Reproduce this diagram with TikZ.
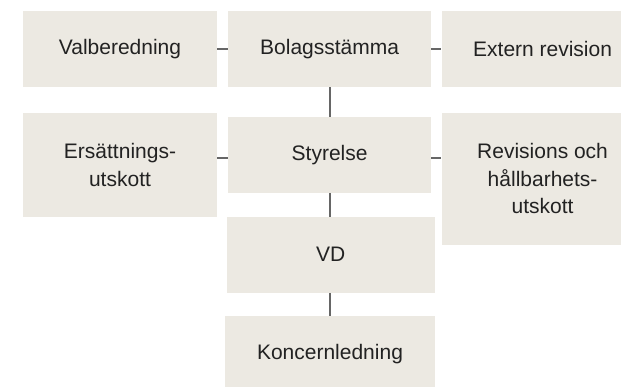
\documentclass[tikz,border=0pt]{standalone}
\usepackage{fontspec}
\setmainfont{Liberation Sans}
\definecolor{boxfill}{HTML}{ECE9E2}
\definecolor{txt}{HTML}{222222}
\definecolor{conn}{HTML}{666666}
\begin{document}
\begin{tikzpicture}[x=1pt,y=-1pt,
  orgbox/.style={rectangle, fill=boxfill, draw=none, inner sep=0pt, align=center,
    text=txt, font=\fontsize{21}{27.6}\selectfont},
  conline/.style={draw=conn, line width=1.3pt}]
\useasboundingbox (0,0) rectangle (621,386);
\clip (0,0) rectangle (621,386);
% row 1
\node[orgbox, minimum width=194pt, minimum height=76pt] (val) at (120,49) {Valberedning};
\node[orgbox, minimum width=202.5pt, minimum height=76pt] (bol) at (329.6,49) {Bolagsstämma};
\node[orgbox, minimum width=202pt, minimum height=76pt] (ext) at (542.6,49) {Extern revision};
% row 2
\node[orgbox, minimum width=194pt, minimum height=104pt] (ers) at (120,164.7) {Ersättnings-\\utskott};
\node[orgbox, minimum width=202.5pt, minimum height=76pt] (sty) at (329.6,154.7) {Styrelse};
\node[orgbox, minimum width=202pt, minimum height=132pt] (rev) at (542.6,178.7) {Revisions och\\hållbarhets-\\utskott};
% column
\node[orgbox, minimum width=207.5pt, minimum height=76pt] (vd) at (330.75,254.7) {VD};
\node[orgbox, minimum width=210pt, minimum height=76pt] (kon) at (330,353.7) {Koncernledning};
% connectors
\coordinate (r2) at (0,158);
\coordinate (cx) at (330,0);
\draw[conline] (val.east) -- (bol.west);
\draw[conline] (bol.east) -- (ext.west);
\draw[conline] (ers.east |- r2) -- (sty.west |- r2);
\draw[conline] (sty.east |- r2) -- (rev.west |- r2);
\draw[conline] (bol.south -| cx) -- (sty.north -| cx);
\draw[conline] (sty.south -| cx) -- (vd.north -| cx);
\draw[conline] (vd.south -| cx) -- (kon.north -| cx);
\end{tikzpicture}
\end{document}
